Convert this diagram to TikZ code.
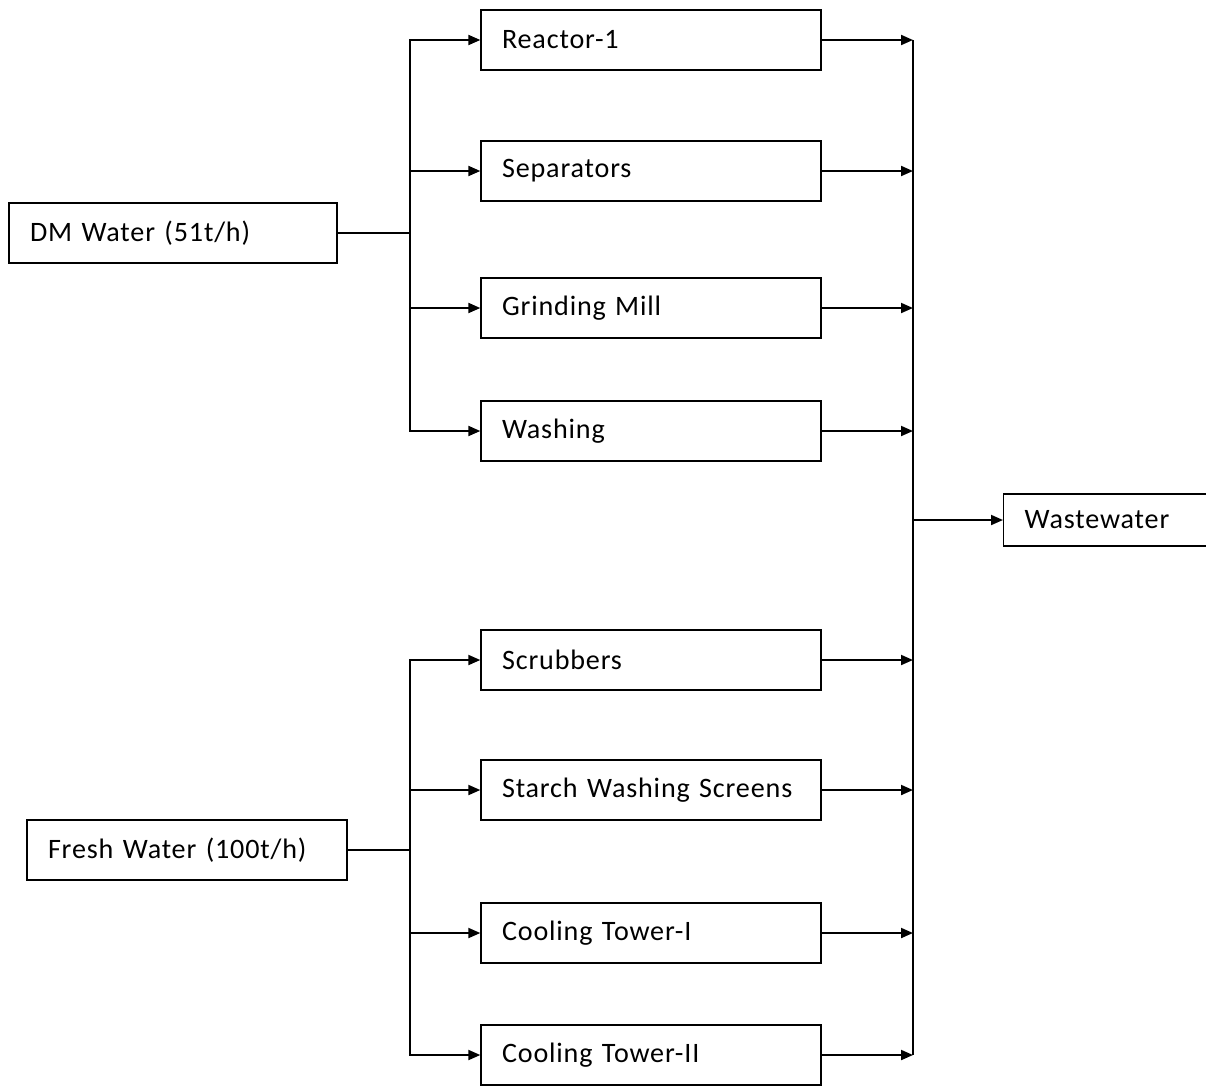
\documentclass[tikz,border=0pt]{standalone}
\usepackage{fontspec}
\setmainfont[LetterSpace=3,WordSpace=0.7]{Carlito}
\usetikzlibrary{arrows.meta}
\usetikzlibrary{calc}

\tikzset{
 unit/.style={draw=black, line width=0.8pt, minimum height=1.2cm, text width=5.96cm,
   inner xsep=0.42cm, align=left, font=\fontsize{16}{19}\selectfont},
 flow/.style={line width=1.1pt, -{Triangle[length=2.4mm,width=2mm]}},
 pipe/.style={line width=1.1pt}
}

\begin{document}
\begin{tikzpicture}[x=0.02cm, y=-0.02cm]
\useasboundingbox (0,0) rectangle (1206,1086);
% sources
\node[unit, text width=5.72cm] (dm) at (173,233) {DM Water (51t/h)};
\node[unit, text width=5.56cm] (fw) at (187,850) {Fresh Water (100t/h)};
% wastewater, cut at the page edge
\node[unit, anchor=west, minimum height=1.04cm, text width=4cm] (ww) at (1003,520) {Wastewater};
% process units
\foreach \name/\y/\txt in {r1/40/Reactor-1, sep/171/Separators, mill/308/Grinding Mill,
  wash/431/Washing, scrub/660/Scrubbers, screen/790/Starch Washing Screens,
  ct1/933/Cooling Tower-I, ct2/1055/Cooling Tower-II} {
 \node[unit] (\name) at (651,\y) {\txt};
}
% fork points and collector
\draw[pipe] (dm.east) -- ++(72,0) coordinate (dmfork);
\draw[pipe, line width=0.8pt] (fw.east) -- ++(62,0) coordinate (fwfork);
\coordinate (wbus) at (913,520);
\foreach \name in {r1, sep, mill, wash} {
 \draw[flow] (dmfork) |- (\name.west);
}
\foreach \name in {scrub, screen, ct1, ct2} {
 \draw[flow] (fwfork) |- (\name.west);
}
\foreach \name in {r1, sep, mill, wash, scrub, screen, ct1, ct2} {
 \draw[flow] (\name.east) -- (\name.east -| wbus);
}
\draw[pipe] (wbus |- r1.east) -- (wbus |- ct2.east);
\draw[flow] (wbus) -- (ww.west);
\end{tikzpicture}
\end{document}
